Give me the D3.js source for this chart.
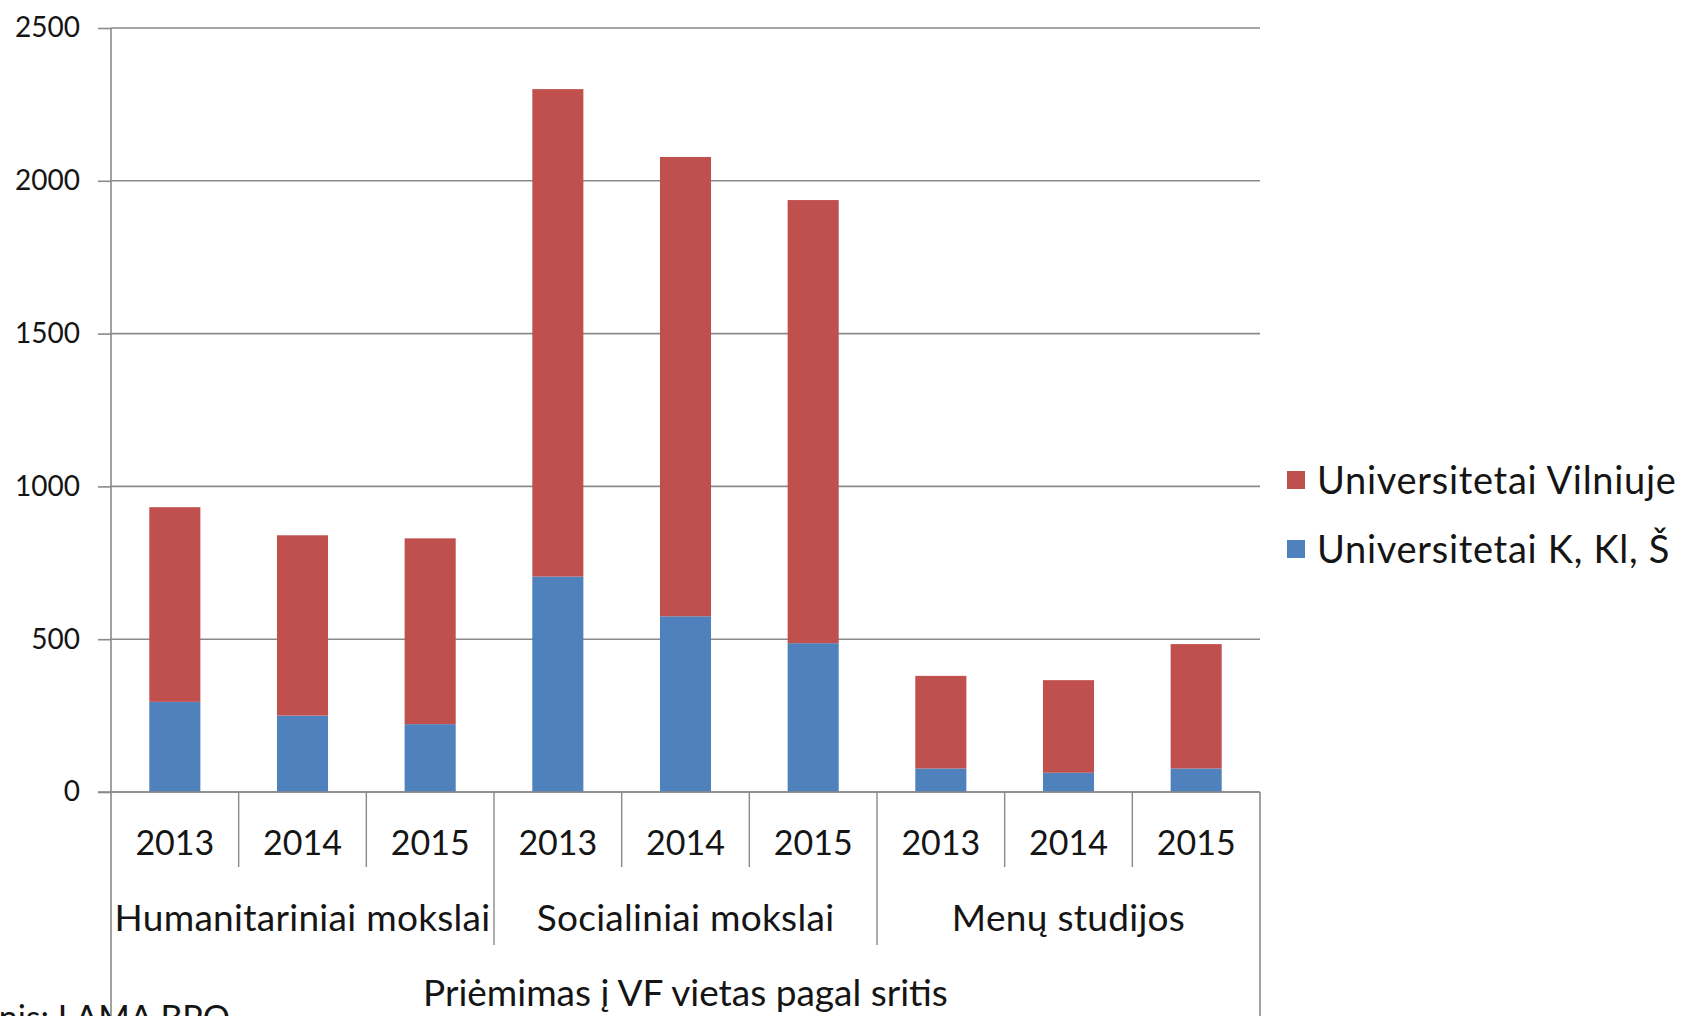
<!DOCTYPE html>
<html>
<head>
<meta charset="utf-8">
<script src="https://cdn.jsdelivr.net/npm/d3@7"></script>
<style>
  html, body { margin: 0; padding: 0; background: #fff; overflow: hidden; }
  svg { display: block; }
  text { font-family: Lato, "Open Sans", sans-serif; fill: #151515; }
</style>
</head>
<body>
<svg id="chart" width="1685" height="1016"></svg>
<script>
// ---- data ----
const groups = ["Humanitariniai mokslai", "Socialiniai mokslai", "Menų studijos"];
const years = ["2013", "2014", "2015"];
const seriesNames = ["Universitetai Vilniuje", "Universitetai K, Kl, Š"];
const kklsValues = [295, 250, 222, 705, 575, 487, 77, 63, 77];        // blue (bottom)
const vilniusValues = [637, 590, 608, 1595, 1503, 1450, 303, 303, 407]; // red (top)
const yTicks = [0, 500, 1000, 1500, 2000, 2500];
const axisTitle = "Priėmimas į VF vietas pagal sritis";
const sourceText = "Šaltinis: LAMA BPO";

const colors = { vilnius: "#C0504D", kkls: "#4F81BD", grid: "#8a8a8a" };

// ---- layout ----
const W = 1685, H = 1016;
const pLeft = 111, pRight = 1260, pTop = 28, pBottom = 792;

const svg = d3.select("#chart");

const cats = [];
groups.forEach((g, gi) => years.forEach((yr, yi) => cats.push({ key: g + "|" + yr, group: g, year: yr, idx: gi * 3 + yi })));

const x = d3.scaleBand().domain(cats.map(c => c.key)).range([pLeft, pRight]).paddingInner(0.6).paddingOuter(0.3);
const y = d3.scaleLinear().domain([0, 2500]).range([pBottom, pTop]);
const step = x.step();
const gapHalf = (x.step() - x.bandwidth()) / 2;

// gridlines
svg.append("g").selectAll("line").data(yTicks).join("line")
  .attr("x1", pLeft).attr("x2", pRight)
  .attr("y1", d => y(d)).attr("y2", d => y(d))
  .attr("stroke", colors.grid).attr("stroke-width", 1.6);

// y axis
const yAxis = d3.axisLeft(y).tickValues(yTicks).tickSize(13).tickPadding(18).tickFormat(d3.format("d"));
const yg = svg.append("g").attr("transform", `translate(${pLeft},0)`).call(yAxis);
yg.select(".domain").remove();
yg.selectAll(".tick line").attr("stroke", colors.grid).attr("stroke-width", 1.6);
yg.selectAll(".tick text").attr("font-size", 28).attr("font-family", "Lato").attr("fill", "#151515");

// stacked data
const stackData = cats.map(c => ({ key: c.key, kkls: kklsValues[c.idx], vilnius: vilniusValues[c.idx] }));
const stack = d3.stack().keys(["kkls", "vilnius"]);
const layers = stack(stackData);

svg.append("g").selectAll("g").data(layers).join("g")
  .attr("fill", d => colors[d.key])
  .selectAll("rect").data(d => d).join("rect")
  .attr("x", d => x(d.data.key))
  .attr("width", x.bandwidth())
  .attr("y", d => y(d[1]))
  .attr("height", d => y(d[0]) - y(d[1]));

// frame lines: left axis line, right line, baseline
svg.append("line").attr("x1", pLeft).attr("x2", pLeft).attr("y1", pTop).attr("y2", H)
  .attr("stroke", colors.grid).attr("stroke-width", 1.6);
svg.append("line").attr("x1", pRight).attr("x2", pRight).attr("y1", pBottom).attr("y2", H)
  .attr("stroke", colors.grid).attr("stroke-width", 1.6);
svg.append("line").attr("x1", pLeft - 13).attr("x2", pRight).attr("y1", pBottom).attr("y2", pBottom)
  .attr("stroke", colors.grid).attr("stroke-width", 1.6);

// category dividers
const yearDividers = cats.filter(c => c.idx % 3 !== 0).map(c => x(c.key) - gapHalf);
svg.append("g").selectAll("line").data(yearDividers).join("line")
  .attr("x1", d => d).attr("x2", d => d).attr("y1", pBottom).attr("y2", 867)
  .attr("stroke", colors.grid).attr("stroke-width", 1.4);
const groupDividers = cats.filter(c => c.idx % 3 === 0 && c.idx > 0).map(c => x(c.key) - gapHalf);
svg.append("g").selectAll("line").data(groupDividers).join("line")
  .attr("x1", d => d).attr("x2", d => d).attr("y1", pBottom).attr("y2", 945)
  .attr("stroke", colors.grid).attr("stroke-width", 1.4);

// year labels
svg.append("g").selectAll("text").data(cats).join("text")
  .attr("x", d => x(d.key) + x.bandwidth() / 2)
  .attr("y", 855)
  .attr("text-anchor", "middle")
  .attr("font-size", 34)
  .text(d => d.year);

// group labels
svg.append("g").selectAll("text").data(groups).join("text")
  .attr("x", (d, i) => pLeft + step * (i * 3 + 1.5))
  .attr("y", 931)
  .attr("text-anchor", "middle")
  .attr("font-size", 37)
  .attr("letter-spacing", 0.3)
  .text(d => d);

// axis title
svg.append("text")
  .attr("x", (pLeft + pRight) / 2).attr("y", 1006)
  .attr("text-anchor", "middle").attr("font-size", 37)
  .text(axisTitle);

// source (clipped at the edge, as in the original)
svg.append("text")
  .attr("x", 230).attr("y", 1030)
  .attr("text-anchor", "end").attr("font-size", 34)
  .text(sourceText);

// legend
const legendItems = [
  { name: seriesNames[0], color: colors.vilnius, cy: 480 },
  { name: seriesNames[1], color: colors.kkls, cy: 549 }
];
const lg = svg.append("g").selectAll("g").data(legendItems).join("g");
lg.append("rect").attr("x", 1287).attr("y", d => d.cy - 9).attr("width", 18).attr("height", 18).attr("fill", d => d.color);
lg.append("text").attr("x", 1317).attr("y", d => d.cy + 14).attr("font-size", 38)
  .attr("letter-spacing", 0.7).text(d => d.name);
</script>
</body>
</html>
